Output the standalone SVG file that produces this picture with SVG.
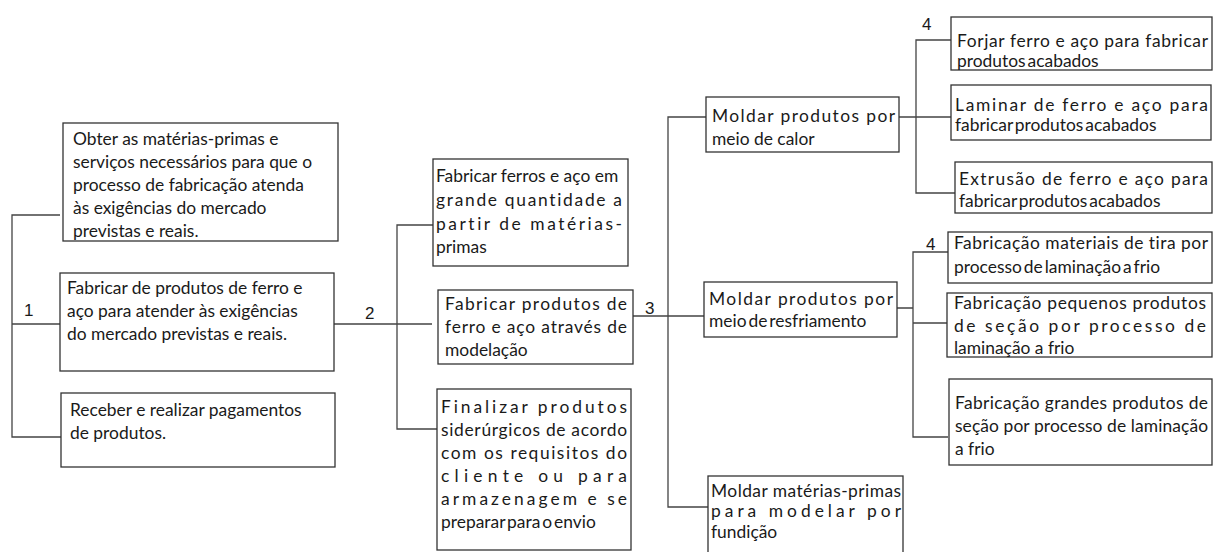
<svg xmlns="http://www.w3.org/2000/svg" width="1220" height="552" viewBox="0 0 1220 552">
<style>
.box{fill:#fff;stroke:#333;stroke-width:1.3}
.t{font-family:Lato,"Liberation Sans",Arial,sans-serif;font-size:17.4px;fill:#1a1a1a;font-variant-ligatures:none;font-feature-settings:"liga" 0}
.n{font-family:"Liberation Sans",Arial,sans-serif;font-size:17px;fill:#1a1a1a}
.c{fill:none;stroke:#444;stroke-width:1.3}
.sq{word-spacing:-2.5px}
</style>
<rect width="1220" height="552" fill="#fff"/>
<g id="connectors">
<path class="c" d="M60 215H12V437H61M12 324H60"/>
<path class="c" d="M334 324H432M433 225H397V429H437"/>
<path class="c" d="M627 316H704M706 117H668V507H708"/>
<path class="c" d="M899 117H916M951 40H916V193H955M916 117H951"/>
<path class="c" d="M897 308H913M948 252H913V437H948M913 323H947"/>
</g>
<g id="labels">
<text class="n" x="24" y="316">1</text>
<text class="n" x="365" y="319">2</text>
<text class="n" x="645" y="314">3</text>
<text class="n" x="922" y="30">4</text>
<text class="n" x="926" y="250">4</text>
</g>
<g id="nodeA"><rect class="box" x="63" y="123" width="275" height="118"/>
<text class="t" x="73" y="145">Obter as matérias-primas e</text>
<text class="t" x="73" y="168">serviços necessários para que o</text>
<text class="t" x="73" y="191">processo de fabricação atenda</text>
<text class="t" x="73" y="214">às exigências do mercado</text>
<text class="t" x="73" y="237">previstas e reais.</text></g>
<g id="nodeB"><rect class="box" x="60" y="273" width="274" height="98"/>
<text class="t" x="67" y="294">Fabricar de produtos de ferro e</text>
<text class="t" x="67" y="317">aço para atender às exigências</text>
<text class="t" x="67" y="340">do mercado previstas e reais.</text></g>
<g id="nodeC"><rect class="box" x="61" y="393" width="274" height="74"/>
<text class="t" x="70" y="416">Receber e realizar pagamentos</text>
<text class="t" x="70" y="439">de produtos.</text></g>
<g id="nodeD"><rect class="box" x="433" y="159" width="195" height="107"/>
<text class="t" x="436" y="182">Fabricar ferros e aço em</text>
<text class="t" x="436" y="206" textLength="186" lengthAdjust="spacing">grande quantidade a</text>
<text class="t" x="436" y="230" textLength="186" lengthAdjust="spacing">partir de matérias-</text>
<text class="t" x="436" y="253">primas</text></g>
<g id="nodeE"><rect class="box" x="438" y="290" width="195" height="74"/>
<text class="t" x="445" y="310" textLength="182" lengthAdjust="spacing">Fabricar produtos de</text>
<text class="t" x="445" y="333" textLength="182" lengthAdjust="spacing">ferro e aço  através de</text>
<text class="t" x="445" y="356">modelação</text></g>
<g id="nodeF"><rect class="box" x="437" y="389" width="194" height="161"/>
<text class="t" x="441" y="413" textLength="186" lengthAdjust="spacing">Finalizar produtos</text>
<text class="t" x="441" y="436" textLength="186" lengthAdjust="spacing">siderúrgicos de acordo</text>
<text class="t" x="441" y="459" textLength="186" lengthAdjust="spacing">com os requisitos do</text>
<text class="t" x="441" y="482" textLength="186" lengthAdjust="spacing">cliente ou para</text>
<text class="t" x="441" y="505" textLength="186" lengthAdjust="spacing">armazenagem e se</text>
<text class="t sq" x="441" y="528">preparar para o envio</text></g>
<g id="nodeG"><rect class="box" x="706" y="97" width="193" height="55"/>
<text class="t" x="712" y="122" textLength="183" lengthAdjust="spacing">Moldar produtos por</text>
<text class="t" x="712" y="145">meio de calor</text></g>
<g id="nodeH"><rect class="box" x="951" y="17" width="261" height="53"/>
<text class="t" x="957" y="47" textLength="251" lengthAdjust="spacing">Forjar ferro e aço para fabricar</text>
<text class="t sq" x="957" y="67">produtos acabados</text></g>
<g id="nodeI"><rect class="box" x="951" y="85" width="260" height="55"/>
<text class="t" x="955" y="111" textLength="253" lengthAdjust="spacing">Laminar de ferro e aço para</text>
<text class="t sq" x="955" y="131">fabricar produtos acabados</text></g>
<g id="nodeJ"><rect class="box" x="955" y="162" width="257" height="51"/>
<text class="t" x="959" y="185" textLength="249" lengthAdjust="spacing">Extrusão de ferro e aço para</text>
<text class="t sq" x="959" y="207">fabricar produtos acabados</text></g>
<g id="nodeK"><rect class="box" x="704" y="282" width="193" height="55"/>
<text class="t" x="709" y="305" textLength="184" lengthAdjust="spacing">Moldar produtos por</text>
<text class="t sq" x="709" y="327">meio de resfriamento</text></g>
<g id="nodeL"><rect class="box" x="948" y="232" width="264" height="51"/>
<text class="t" x="954" y="249" textLength="254" lengthAdjust="spacing">Fabricação  materiais de tira por</text>
<text class="t sq" x="954" y="273">processo de laminação a frio</text></g>
<g id="nodeM"><rect class="box" x="947" y="293" width="265" height="64"/>
<text class="t" x="954" y="309" textLength="252" lengthAdjust="spacing">Fabricação pequenos produtos</text>
<text class="t" x="954" y="332" textLength="252" lengthAdjust="spacing">de seção por processo de</text>
<text class="t" x="954" y="354">laminação a frio</text></g>
<g id="nodeN"><rect class="box" x="949" y="379" width="263" height="86"/>
<text class="t" x="955" y="409" textLength="253" lengthAdjust="spacing">Fabricação  grandes produtos de</text>
<text class="t" x="955" y="432" textLength="253" lengthAdjust="spacing">seção por processo de laminação</text>
<text class="t" x="955" y="455">a frio</text></g>
<g id="nodeO"><rect class="box" x="708" y="476" width="195" height="80"/>
<text class="t" x="711" y="497" textLength="190" lengthAdjust="spacing">Moldar matérias-primas</text>
<text class="t" x="711" y="517" textLength="190" lengthAdjust="spacing">para modelar por</text>
<text class="t" x="711" y="538">fundição</text></g>
</svg>
